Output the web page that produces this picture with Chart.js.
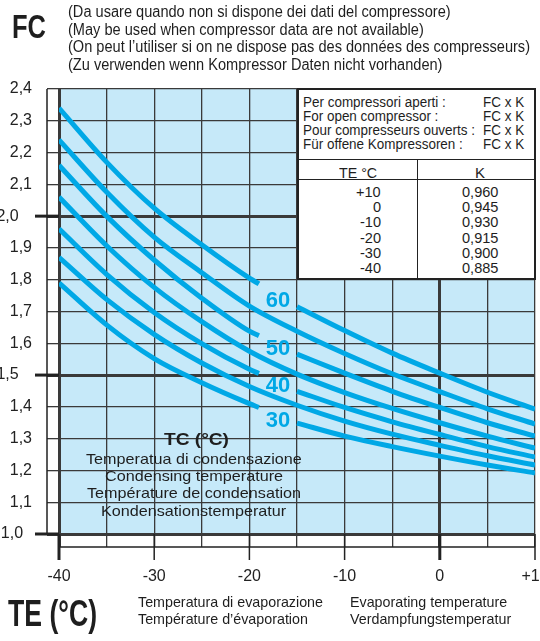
<!DOCTYPE html>
<html>
<head>
<meta charset="utf-8">
<script src="https://cdn.jsdelivr.net/npm/chart.js@4.4.0/dist/chart.umd.min.js"></script>
<style>
body { margin: 0; background: #fff; }
#wrap { position: relative; width: 540px; height: 641px; overflow: hidden; font-family: "Liberation Sans", Arial, sans-serif; color: #1e1e1e; }
#wrap canvas { position: absolute; left: 0; top: 0; }
.t { position: absolute; white-space: nowrap; transform-origin: 0 0; }
#box { position: absolute; left: 297px; top: 88px; width: 235px; height: 188px; border: 2px solid #222; background: #fff; }
.hl { position: absolute; left: 0; width: 100%; height: 0; border-top: 1.5px solid #222; }
.vl { position: absolute; width: 0; border-left: 1.5px solid #222; }
</style>
</head>
<body>
<div id="wrap">
  <canvas id="fcChart" width="540" height="641"></canvas>
</div>
<script>
// evaporating temperature TE (°C)
const teFull = [-40, -35, -30, -25, -20, -15, -10, -5, 0, 5, 10];
const teSplit = [-40, -35, -30, -25, -20, -19, -17, -15, -10, -5, 0, 5, 10]; // -17 = gap for the label

// FC for each condensing temperature TC
const fc60 = [2.34, 2.17, 2.025, 1.91, 1.805, 1.787, null, 1.715, 1.64, 1.569, 1.506, 1.446, 1.393];
const fc55 = [2.24, 2.076, 1.934, 1.822, 1.717, 1.638, 1.568, 1.504, 1.448, 1.394, 1.346];
const fc50 = [2.16, 2.0, 1.862, 1.742, 1.638, 1.624, null, 1.566, 1.506, 1.449, 1.398, 1.35, 1.308];
const fc45 = [2.06, 1.907, 1.776, 1.668, 1.575, 1.503, 1.445, 1.395, 1.35, 1.308, 1.27];
const fc40 = [1.96, 1.817, 1.697, 1.599, 1.518, 1.505, null, 1.449, 1.398, 1.353, 1.313, 1.275, 1.242];
const fc35 = [1.87, 1.738, 1.628, 1.538, 1.464, 1.405, 1.355, 1.314, 1.279, 1.246, 1.217];
const fc30 = [1.79, 1.658, 1.552, 1.476, 1.41, 1.398, null, 1.349, 1.308, 1.275, 1.245, 1.217, 1.192];

const xTickLabels = ['-40', '', '-30', '', '-20', '', '-10', '', '0', '', '+10'];
const yTickLabels = ['1,0', '1,1', '1,2', '1,3', '1,4', '1,5', '1,6', '1,7', '1,8', '1,9', '2,0', '2,1', '2,2', '2,3', '2,4'];

const curveLabels = ['60', '50', '40', '30'];
const curveLabelTE = -17;
const curveLabelFC = [1.736, 1.585, 1.469, 1.358];

const tableNotes = ['Per compressori aperti :', 'For open compressor :', 'Pour compresseurs ouverts :', 'Für offene Kompressoren :'];
const tableTE = ['+10', '0', '-10', '-20', '-30', '-40'];
const tableK = ['0,960', '0,945', '0,930', '0,915', '0,900', '0,885'];

const CYAN = '#00a8e6';
const SKY = '#c6e9f9';
const INK = '#222';
const FONT = '"Liberation Sans", Arial, sans-serif';

const series = [
    { tc: '60', te: teSplit, fc: fc60 },
    { tc: '55', te: teFull, fc: fc55 },
    { tc: '50', te: teSplit, fc: fc50 },
    { tc: '45', te: teFull, fc: fc45 },
    { tc: '40', te: teSplit, fc: fc40 },
    { tc: '35', te: teFull, fc: fc35 },
    { tc: '30', te: teSplit, fc: fc30 }
];

const wrap = document.getElementById('wrap');

// put a line of text, squeezed horizontally (the original uses a narrow face)
function place(text, x, cy, size, opts) {
    opts = opts || {};
    const el = document.createElement('div');
    el.className = 't';
    el.textContent = text;
    el.style.font = (opts.bold ? 'bold ' : '') + size + 'px ' + FONT;
    el.style.lineHeight = size + 'px';
    if (opts.color) el.style.color = opts.color;
    wrap.appendChild(el);
    const nat = el.getBoundingClientRect().width;
    const sx = opts.w ? opts.w / nat : (opts.sx || 1);
    let left = x;
    if (opts.align === 'center') left = x - nat * sx / 2;
    if (opts.align === 'right') left = x - nat * sx;
    el.style.left = left + 'px';
    el.style.top = (cy - size * 0.49) + 'px';
    el.style.transform = 'scaleX(' + sx + ')';
    return sx;
}

function widthOf(text, size, bold) {
    const c = document.createElement('canvas').getContext('2d');
    c.font = (bold ? 'bold ' : '') + size + 'px ' + FONT;
    return c.measureText(text).width;
}

const isMajorY = v => [1.0, 1.5, 2.0].some(m => Math.abs(v - m) < 1e-6);
const isMajorX = v => v === -40 || v === 0;

const framePlugin = {
    id: 'frame',
    beforeDraw(chart) {
        const a = chart.chartArea, c = chart.ctx;
        c.save();
        c.fillStyle = SKY;
        c.fillRect(a.left, a.top, a.right - a.left, a.bottom - a.top);
        c.restore();
    },
    afterDraw(chart) {
        const a = chart.chartArea, c = chart.ctx;
        const xs = chart.scales.x, ys = chart.scales.y;
        c.save();
        c.strokeStyle = INK;
        // left white strip border and bottom strip border
        c.lineWidth = 1.5;
        c.beginPath();
        c.moveTo(a.left - 12, a.top); c.lineTo(a.left - 12, a.bottom);
        c.moveTo(a.left, a.bottom + 13); c.lineTo(a.right, a.bottom + 13);
        c.stroke();
        // long ticks below the strip
        teFull.forEach(t => {
            if (t % 10 !== 0) return;
            const px = xs.getPixelForValue(t);
            c.lineWidth = isMajorX(t) ? 3 : 1.5;
            c.beginPath();
            c.moveTo(px, a.bottom); c.lineTo(px, a.bottom + 26);
            c.stroke();
        });
        // heavy ticks to the left at 1,0 1,5 2,0
        [1.0, 1.5, 2.0].forEach(v => {
            const py = ys.getPixelForValue(v);
            c.lineWidth = 3;
            c.beginPath();
            c.moveTo(a.left - 24, py); c.lineTo(a.left, py);
            c.stroke();
        });
        // curve labels
        c.fillStyle = CYAN;
        c.font = 'bold 22px ' + FONT;
        c.textAlign = 'center';
        c.textBaseline = 'middle';
        curveLabels.forEach((s, i) => {
            c.fillText(s, xs.getPixelForValue(curveLabelTE), ys.getPixelForValue(curveLabelFC[i]) + 1);
        });
        c.restore();
    }
};

new Chart(document.getElementById('fcChart'), {
    type: 'line',
    data: {
        datasets: series.map(s => ({
            label: 'TC ' + s.tc,
            data: s.te.map((t, i) => ({ x: t, y: s.fc[i] })),
            borderColor: CYAN,
            borderWidth: 5,
            pointRadius: 0,
            fill: false,
            spanGaps: false,
            cubicInterpolationMode: 'monotone',
            borderCapStyle: 'butt'
        }))
    },
    options: {
        responsive: false,
        animation: false,
        layout: { padding: { left: 0, top: 89, right: 5, bottom: 0 } },
        plugins: { legend: { display: false }, tooltip: { enabled: false } },
        scales: {
            x: {
                type: 'linear',
                min: -40,
                max: 10,
                border: { display: false },
                grid: {
                    color: '#3a3a3a',
                    lineWidth: ctx => (ctx.tick && isMajorX(ctx.tick.value)) ? 3 : 1.3,
                    tickLength: 13
                },
                ticks: {
                    stepSize: 5,
                    autoSkip: false,
                    maxRotation: 0,
                    padding: 20,
                    color: INK,
                    font: { family: FONT, size: 16 },
                    callback: (v, i) => xTickLabels[i]
                },
                afterFit(s) { s.height = 107; s.paddingLeft = 0; s.paddingRight = 0; }
            },
            y: {
                min: 1.0,
                max: 2.4,
                border: { display: false },
                grid: {
                    color: '#3a3a3a',
                    lineWidth: ctx => (ctx.tick && isMajorY(ctx.tick.value)) ? 3 : 1.3,
                    tickLength: 12
                },
                ticks: {
                    stepSize: 0.1,
                    padding: 15,
                    color: INK,
                    font: { family: FONT, size: 16 },
                    callback: v => {
                        const lab = yTickLabels[Math.round((v - 1) * 10)];
                        if (Math.abs(v - 1.0) < 1e-6) return lab + '  ';
                        return isMajorY(v) ? lab + '   ' : lab;
                    }
                },
                afterFit(s) { s.width = 59; s.paddingTop = 0; s.paddingBottom = 0; }
            }
        }
    },
    plugins: [framePlugin]
});

// header
place('FC', 12, 26, 33, { bold: true, w: 34 });
const headLines = [
    '(Da usare quando non si dispone dei dati del compressore)',
    '(May be used when compressor data are not available)',
    '(On peut l\u2019utiliser si on ne dispose pas des données des compresseurs)',
    '(Zu verwenden wenn Kompressor Daten nicht vorhanden)'
];
const headSx = 462 / widthOf(headLines[2], 16);
headLines.forEach((s, i) => place(s, 68, 12 + i * 17.5, 16, { sx: headSx }));

// table box
const box = document.createElement('div');
box.id = 'box';
box.innerHTML = '<div class="hl" style="top:69px"></div><div class="hl" style="top:89px"></div>' +
    '<div class="vl" style="left:118px;top:69px;height:119px"></div>';
wrap.appendChild(box);
const noteSx = 172 / widthOf(tableNotes[2], 14);
tableNotes.forEach((s, i) => {
    place(s, 303, 102 + i * 14, 14, { sx: noteSx });
    place('FC x K', 524, 102 + i * 14, 14, { sx: noteSx, align: 'right' });
});
place('TE \u00b0C', 358, 172, 15, { sx: 0.95, align: 'center' });
place('K', 480, 172, 15, { align: 'center' });
tableTE.forEach((s, i) => place(s, 381, 191 + i * 15.3, 15, { sx: 0.97, align: 'right' }));
tableK.forEach((s, i) => place(s, 480, 191 + i * 15.3, 15, { sx: 0.97, align: 'center' }));

// condensing temperature caption
place('TC (\u00b0C)', 196, 439, 17, { bold: true, w: 65, align: 'center' });
const tcLines = ['Temperatua di condensazione', 'Condensing temperature', 'Température de condensation', 'Kondensationstemperatur'];
const tcSx = 214 / widthOf(tcLines[2], 15);
tcLines.forEach((s, i) => place(s, 194, 458 + i * 17.3, 15, { sx: tcSx, align: 'center' }));

// x axis caption
place('TE (\u00b0C)', 8, 614, 36, { bold: true, w: 89 });
const evSx = 185 / widthOf('Temperatura di evaporazione', 15);
place('Temperatura di evaporazione', 138, 601, 15, { sx: evSx });
place('Température d\u2019évaporation', 138, 618, 15, { sx: evSx });
place('Evaporating temperature', 350, 601, 15, { sx: evSx });
place('Verdampfungstemperatur', 350, 618, 15, { sx: evSx });
</script>
</body>
</html>
